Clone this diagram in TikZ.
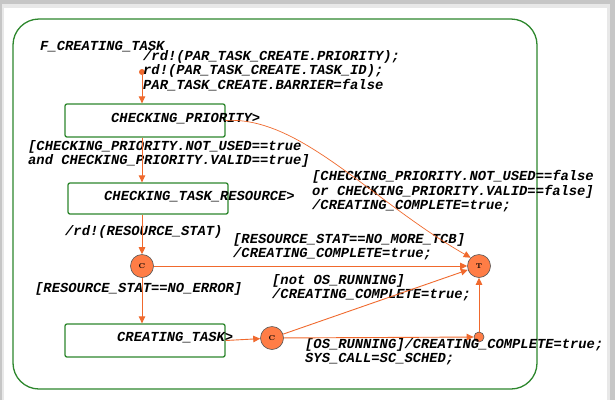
\documentclass[tikz,border=0pt]{standalone}
\usepackage{fontspec}
\setmonofont{Liberation Mono}
\usepackage{tikz}
\usetikzlibrary{arrows.meta, calc}
\usepackage{xcolor}
\definecolor{stgreen}{RGB}{45,135,45}
\definecolor{trorange}{RGB}{240,105,45}
\definecolor{cnfill}{RGB}{255,125,70}
\definecolor{cnedge}{RGB}{85,85,85}
\tikzset{
  ST/.style={draw=stgreen,line width=1.3pt,rectangle,rounded corners=2pt,minimum width=160pt,inner sep=0pt},
  TX/.style={font=\ttfamily\bfseries\itshape\fontsize{13.8}{14.2}\selectfont,inner sep=0pt,align=left},
  CN/.style={circle,draw=cnedge,fill=cnfill,line width=0.6pt,minimum size=23pt,inner sep=0pt,font=\fontsize{7}{7}\selectfont\bfseries},
  JN/.style={circle,draw=cnedge,fill=cnfill,line width=0.6pt,minimum size=10pt,inner sep=0pt},
  FL/.style={-{Triangle[length=7pt,width=6.5pt]},line width=0.9pt,trorange},
}
\begin{document}
\begin{tikzpicture}[x=1pt,y=-1pt]

% frame
\useasboundingbox (0,0) rectangle (615,400);
\fill[gray!45] (0,0) rectangle (615,400);
\fill[gray!18] (2,4) rectangle (610,400);
\fill[white] (4,8) rectangle (607,400);
\draw[stgreen,line width=1.3pt,rounded corners=26pt] (13,19) rectangle (537,389);

% States
\node[ST,minimum height=33pt](cp)  at (145,120.5){};
\node[ST,minimum height=31pt](ctr) at (148,198.5){};
\node[ST,minimum height=33pt](ct)  at (145,340.5){};
\node[TX,anchor=west](cptx)  at (111,119){CHECKING\_PRIORITY>};
\node[TX,anchor=west](ctrtx) at (104,197){CHECKING\_TASK\_RESOURCE>};
\node[TX,anchor=west](cttx)  at (117,338){CREATING\_TASK>};

% Pseudo states
\node[circle,fill=trorange,minimum size=6pt,inner sep=0pt](st) at (142,72){};
\node[CN](c1)   at (142,266){C};
\node[CN](c2)   at (272,338){C};
\node[CN](term) at (479,266){T};
\node[JN](jn)   at (479,337){};

% Labels
\node[TX,anchor=west](name) at (40,47){F\_CREATING\_TASK};
\node[TX,anchor=north west](act) at (143,50.5){/rd!(PAR\_TASK\_CREATE.PRIORITY);\\rd!(PAR\_TASK\_CREATE.TASK\_ID);\\PAR\_TASK\_CREATE.BARRIER=false};
\node[TX,anchor=north west](g1) at (28,140.5){[CHECKING\_PRIORITY.NOT\_USED==true\\and CHECKING\_PRIORITY.VALID==true]};
\node[TX,anchor=north west](g2) at (312,170.5){[CHECKING\_PRIORITY.NOT\_USED==false\\or CHECKING\_PRIORITY.VALID==false]\\/CREATING\_COMPLETE=true;};
\node[TX,anchor=west](a2) at (65,232){/rd!(RESOURCE\_STAT)};
\node[TX,anchor=north west](g3) at (233,233.5){[RESOURCE\_STAT==NO\_MORE\_TCB]\\/CREATING\_COMPLETE=true;};
\node[TX,anchor=west](g4) at (35,289){[RESOURCE\_STAT==NO\_ERROR]};
\node[TX,anchor=north west](g5) at (272,274.5){[not OS\_RUNNING]\\/CREATING\_COMPLETE=true;};
\node[TX,anchor=north west](g6) at (305,338.5){[OS\_RUNNING]/CREATING\_COMPLETE=true;\\SYS\_CALL=SC\_SCHED;};

% Transitions
\draw[FL](st)--(cp.north -| st);
\draw[FL](cp.south -| st)--(ctr.north -| st);
\draw[FL](ctr.south -| c1)--(c1);
\draw[FL](c1)--(ct.north -| c1);
\draw[FL](ct.east)--(c2);
\draw[FL](c2)--(jn);
\draw[FL](jn)--(term);
\draw[FL](c2)--(term);
\draw[FL](c1)--(term);
\draw[FL,line width=0.7pt](cp.east) .. controls (300,116) and (370,200) .. (term.north west);

\end{tikzpicture}
\end{document}
